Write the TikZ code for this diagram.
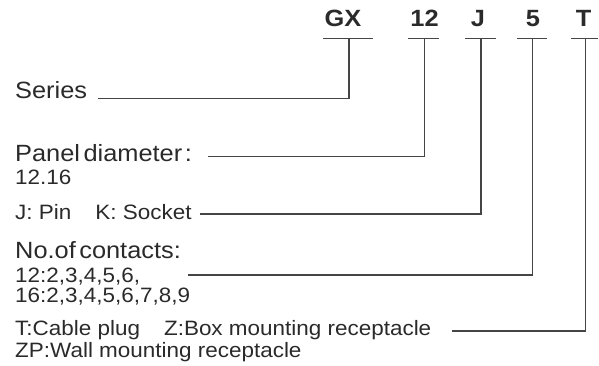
\documentclass[tikz,border=0pt]{standalone}
\usepackage{fontspec}
\setmainfont[FakeStretch=1.08]{Liberation Sans}
\definecolor{txt}{HTML}{2A2A2A}
\definecolor{ln}{HTML}{454545}
\begin{document}
\begin{tikzpicture}[x=1pt,y=-1pt,
  lbl/.style={anchor=base west,inner sep=0pt,text=txt,font=\fontsize{23.5}{28}\selectfont},
  sml/.style={anchor=base west,inner sep=0pt,text=txt,font=\fontsize{20.8}{25}\selectfont},
  hdr/.style={anchor=base,inner sep=0pt,text=txt,font=\bfseries\fontsize{23.5}{28}\selectfont},
  bar/.style={draw=ln,line width=1.3pt},
  conn/.style={draw=ln,line width=1.2pt}]
\useasboundingbox (0,0) rectangle (599,366);
% header codes
\node[hdr] (gx) at (343,27) {GX};
\node[hdr] (n12) at (424.5,27) {12};
\node[hdr] (nj) at (478,27) {J};
\node[hdr] (n5) at (533,27) {5};
\node[hdr] (nt) at (583.5,27) {T};
% bars
\draw[bar] (323,38.3) -- (373,38.3);
\draw[bar] (408,38.3) -- (439,38.3);
\draw[bar] (465,38.3) -- (496,38.3);
\draw[bar] (517,38.3) -- (547,38.3);
\draw[bar] (571,38.3) -- (598,38.3);
\coordinate (bgx) at (349,38.3);
\coordinate (b12) at (424.5,38.3);
\coordinate (bj) at (481,38.3);
\coordinate (b5) at (532.5,38.3);
\coordinate (bt) at (585.5,38.3);
% labels
\node[lbl] (series) at (15,99) {Series};
\node[lbl] (panel) at (15,161.5) {Panel\hspace{3.5pt}diameter\kern2.5pt:};
\node[sml] (pv) at (15,185) {12.16};
\node[sml] (pin) at (15,219) {J: Pin\hspace{24pt}K: Socket};
\node[lbl] (contacts) at (15,258) {No.of\hspace{3.5pt}contacts:};
\node[sml] (c12) at (15,282) {12:2,3,4,5,6,};
\node[sml] (c16) at (15,302) {16:2,3,4,5,6,7,8,9};
\node[sml] (typ) at (15,335.5) {T:Cable plug\hspace{24pt}Z:Box mounting receptacle};
\node[sml] (zp) at (15,357) {ZP:Wall mounting receptacle};
% connector ends
\coordinate (eseries) at (98,98.3);
\coordinate (epanel) at (208,156.7);
\coordinate (epin) at (200,214);
\coordinate (ecount) at (188,275);
\coordinate (etype) at (452,331);
% connectors
\draw[conn] (bgx) |- (eseries);
\draw[conn] (b12) |- (epanel);
\draw[conn] (bj) |- (epin);
\draw[conn] (b5) |- (ecount);
\draw[conn] (bt) |- (etype);
\end{tikzpicture}
\end{document}
